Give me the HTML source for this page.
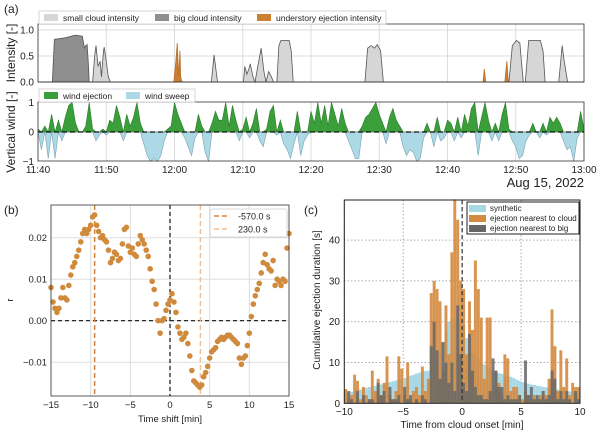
<!DOCTYPE html>
<html><head><meta charset="utf-8"><style>
body{margin:0;background:#fff;width:600px;height:432px;overflow:hidden}
svg{font-family:"Liberation Sans","DejaVu Sans",sans-serif}
</style></head><body>
<svg id="s" width="600" height="432" xmlns="http://www.w3.org/2000/svg"></svg>
<script>
// ---------- data ----------
const bigT=[2.1,2.4,4,5.5,6.5,6.8,7,7.2,7.4,7.5];
const bigV=[0,0.82,0.85,0.9,0.88,0.65,0.7,0.72,0.3,0];
const smallT=[8,8.3,8.5,8.8,9.1,9.3,9.6,9.7,10,10.3,10.6, 25.4,25.8,26.3, 30.1,30.3,30.6,30.9,31.1,31.5,31.8,32.2,32.7,33.1,33.4,33.8,34.2,34.5,34.9, 35,35.3,35.6,36.8,37.1,37.4, 47.9,48.3,48.8,49.3,49.7,50.2,50.6, 69,69.5,70.1,70.6,71.1,71.4,71.9,73.6,74,74.3, 76.3,76.8,77.1,77.6];
const smallV=[0,0.5,0.7,0.3,0.4,0.1,0.6,0.67,0.4,0.1,0, 0,0.52,0, 0,0.3,0.15,0.25,0.35,0.1,0,0.3,0.65,0.2,0,0.2,0.1,0,0, 0,0.7,0.8,0.8,0.6,0, 0,0.65,0.7,0.65,0.72,0.6,0, 0,0.7,0.8,0.75,0,0,0.8,0.8,0.6,0, 0,0.7,0.4,0];
const ejT=[19.9,20.2,20.4,20.6,20.8,20.9,21.1, 65.2,65.4,65.6, 68.4,68.7,68.9];
const ejV=[0,0.4,0.75,0.1,0.6,0.1,0, 0,0.25,0, 0,0.4,0];
const windV=[0.1,-0.6,0.2,-0.9,0.6,-0.9,0.4,-0.3,0.5,0.9,1,0.3,0,0,0.2,1,0.1,-0.3,-0.1,0.1,-0.1,0.4,0.3,0.9,0.5,-0.3,0.6,0.2,0.5,1,0.3,-0.4,-0.8,-1,-0.9,-1,-0.8,-0.3,0.1,0.2,1,0.6,0.3,-0.2,-0.5,-0.8,-0.2,0.6,0.2,-0.7,-1,0.3,0.7,0.4,0.4,1,0.2,0.9,0.4,-0.3,0.1,0.5,-0.2,0.3,0.8,-0.3,-0.5,0.1,0.7,0.9,-0.1,0.4,-0.4,-0.6,-0.9,-0.4,0.7,-0.8,-0.3,-0.1,0.7,0.3,1,0.3,0.9,0.2,1,0.6,0.2,0.8,0.3,-0.3,-0.6,-0.9,-0.9,0.2,0.5,0.6,0.8,1,0.6,0.3,-0.4,0.5,0.8,0.4,0.2,-0.5,-0.8,-0.6,-0.7,-1,-0.9,-0.2,0.3,0,-0.5,0.5,-0.3,-0.2,0.4,0.3,-0.3,0.5,-0.2,0.6,0.2,0.8,1,-0.8,0.5,1,0.4,-0.3,0.3,-0.3,0.6,1,0.1,-0.3,-0.5,-0.9,-0.8,-0.3,-0.1,0.3,0,-0.2,0.3,-0.1,0.5,0.3,0.5,0.3,-0.3,-0.6,-0.5,-1,-0.2,0.7,0.1];
const timeTicks=["11:40","11:50","12:00","12:10","12:20","12:30","12:40","12:50","13:00"];
const rVals=[0.008,0.0045,0.003,0.002,0.003,0.0055,0.008,0.0055,0.005,0.0085,0.011,0.013,0.014,0.0155,0.017,0.019,0.021,0.022,0.021,0.022,0.023,0.025,0.0255,0.023,0.0215,0.02,0.0205,0.0195,0.019,0.017,0.014,0.015,0.0165,0.016,0.0145,0.015,0.0185,0.022,0.0225,0.018,0.0165,0.0175,0.016,0.0155,0.0185,0.0205,0.0195,0.0185,0.017,0.0155,0.0125,0.0095,0.0075,0.004,0.0,-0.003,0.0,0.0005,0.0025,0.004,0.005,0.0065,0.0045,0.002,-0.0015,-0.003,-0.0045,-0.004,-0.003,-0.0055,-0.0085,-0.012,-0.0145,-0.015,-0.0155,-0.016,-0.0155,-0.0135,-0.0125,-0.011,-0.009,-0.0075,-0.007,-0.0065,-0.005,-0.0045,-0.004,-0.0045,-0.004,-0.0035,-0.0035,-0.004,-0.0045,-0.005,-0.0055,-0.009,-0.0105,-0.009,-0.0085,-0.006,-0.003,0.001,0.004,0.006,0.0075,0.009,0.0115,0.014,0.016,0.0135,0.0125,0.012,0.0145,0.0085,0.01,0.0095,0.0085,0.01,0.0095,0.0175,0.021];
const lagDark=-9.5, lagLight=3.833;
const synth=[2.5,2.7,2.8,3,3.2,3.4,3.6,3.8,4,4.1,4.3,4.5,4.6,4.8,5,5.2,5.4,5.6,5.8,6,6.2,6.5,6.8,7,7.3,7.5,7.7,7.9,8,8.5,9,10,12,15,18,20,21,21,21,20.5,19,16,14,12.5,12,11,10,9.5,9,8.5,8,7.7,7.4,7.2,7,6.8,6.5,6.2,5.8,5.5,5.2,5,4.8,4.6,4.5,4.3,4.2,4,3.9,3.8,3.6,3.5,3.4,3.3,3.2,3,2.9,2.8,2.7,2.5];
const nearCloud=[3.5,1,2,7,5.5,1,4,2,1,8,3,6,2,5,11.5,2,1,3,11.5,8.5,2,10,1,3,4,2,9,3,6,27,30,28,25,8,24,12,37,50,45,30,28,12,25,18,35,28,21,6,21,21,3,8,5,2,12,11,3,4,4,2,1,3,2,1,2,1,2,3,2,6,23,14,3,13,4,11,2,5,4,4];
const nearBig=[0,3,1,0,3,0,2,0,1,1,0,5,2,3,0,4,1,1,2,0,4,1,2,0,1,0,2,1,0,14,20,13,6,15,10,5,10,3,24,12,5,3,17,8,4,2,2,1,1,3,11,8,4,4,1,2,1,1,1,2,0,10.5,2,4,1,2,1,3,1,2,8,6,1,3,1,3,1,0,3,1];
const histTicksX=[-10,-5,0,5,10], histTicksY=[0,10,20,30,40];
const lagTicksX=[-15,-10,-5,0,5,10,15], lagTicksY=[0.02,0.01,0.00,-0.01];

// ---------- helpers ----------
const S=document.getElementById('s'),NS='http://www.w3.org/2000/svg';
function el(t,a,p){const e=document.createElementNS(NS,t);for(const k in a)e.setAttribute(k,a[k]);(p||S).appendChild(e);return e;}
function txt(x,y,s,size,anchor,extra){const e=el('text',Object.assign({x:x,y:y,'font-size':size,'text-anchor':anchor||'start',fill:'#222'},extra||{}));e.textContent=s;return e;}
const pt=(a,b)=>a.toFixed(2)+','+b.toFixed(2);

// ---------- panel (a) ----------
const ax=t=>38+t*6.825, ay1=v=>82-52*v, ay2=v=>132-29.5*v;
const X0=38,X1=584;
txt(4,13,'(a)',12,'start');
for(let i=0;i<9;i++){const x=ax(i*10);
 let g=el('line',{x1:x,x2:x,y1:24,y2:82,stroke:'#ddd','stroke-width':1});
 g=el('line',{x1:x,x2:x,y1:102,y2:161,stroke:'#ddd','stroke-width':1});
 const l=txt(x,173,timeTicks[i],10,'middle');}
[0.5,1].forEach(v=>{const g=el('line',{x1:X0,x2:X1,y1:ay1(v),y2:ay1(v),stroke:'#ddd'});});
[0.0,0.5,1.0].forEach(v=>{const l=txt(34,ay1(v)+3.5,v.toFixed(1),10,'end');});
[[1,'1'],[0,'0'],[-1,'−1']].forEach(([v,s])=>{const l=txt(34,ay2(v)+3.5,s,10,'end');});
function drawSeries(T,V,fill,stroke,name){
 let seg=[[T[0],V[0]]];const segs=[];
 for(let i=1;i<T.length;i++){seg.push([T[i],V[i]]);if(V[i]===0&&i<T.length-1&&V[i+1]===0){segs.push(seg);seg=[];}}
 if(seg.length)segs.push(seg);
 segs.forEach(sg=>{if(sg.length<2)return;const d='M'+sg.map(p=>pt(ax(p[0]),ay1(p[1]))).join(' L')+' L'+pt(ax(sg[sg.length-1][0]),ay1(0))+' L'+pt(ax(sg[0][0]),ay1(0))+'Z';
  const p=el('path',{d:d,fill:fill,stroke:stroke,'stroke-width':0.8});});
}
drawSeries(bigT,bigV,'#8f8f8f','#555','big-cloud-area');
drawSeries(smallT,smallV,'#d6d6d6','#555','small-cloud-area');
drawSeries(ejT,ejV,'#cd7f32','#b8702a','ejection-intensity-area');
el('line',{x1:X0,x2:X1,y1:82,y2:82,stroke:'#8a5a2a','stroke-width':1});
el('rect',{x:X0,y:24,width:X1-X0,height:58,fill:'none',stroke:'#333','stroke-width':0.8});
const lg1=el('g',{});
el('rect',{x:39,y:11,width:347,height:13,fill:'#fff',stroke:'#ccc','stroke-width':0.8},lg1);
[[44,'#d6d6d6','small cloud intensity'],[155,'#8f8f8f','big cloud intensity'],[257,'#cd7f32','understory ejection intensity']].forEach(([x,c,s])=>{
 const r=el('rect',{x:x,y:14,width:14,height:7,fill:c},lg1);
 const t=txt(x+19,21,s,8.5,'start');lg1.appendChild(t);});
const wx=i=>ax(i*0.5);
let dG='M'+pt(wx(0),ay2(0)),dB='M'+pt(wx(0),ay2(0));
windV.forEach((v,i)=>{dG+=' L'+pt(wx(i),ay2(Math.max(0,v)));dB+=' L'+pt(wx(i),ay2(Math.min(0,v)));});
dG+=' L'+pt(wx(windV.length-1),ay2(0))+'Z';dB+=' L'+pt(wx(windV.length-1),ay2(0))+'Z';
let p=el('path',{d:dB,fill:'#add8e6',stroke:'#7aa3b3','stroke-width':0.6});
p=el('path',{d:dG,fill:'#3a9e3a',stroke:'#2a7a2a','stroke-width':0.6});
el('line',{x1:X0,x2:X1,y1:ay2(0),y2:ay2(0),stroke:'#111','stroke-width':1.3,'stroke-dasharray':'5,3'});
el('rect',{x:X0,y:102,width:X1-X0,height:59,fill:'none',stroke:'#333','stroke-width':0.8});
const lg2=el('g',{});
el('rect',{x:39,y:89,width:156,height:13,fill:'#fff',stroke:'#ccc','stroke-width':0.8},lg2);
[[44,'#3a9e3a','wind ejection'],[126,'#add8e6','wind sweep']].forEach(([x,c,s])=>{
 const r=el('rect',{x:x,y:92,width:14,height:7,fill:c},lg2);
 const t=txt(x+19,99,s,8.5,'start');lg2.appendChild(t);});
let yl=txt(0,0,'Intensity [-]',12,'middle',{transform:'translate(15,53) rotate(-90)'});
yl=txt(0,0,'Vertical wind [-]',12,'middle',{transform:'translate(15,132) rotate(-90)'});
txt(584,187,'Aug 15, 2022',13,'end');

// ---------- panel (b) ----------
const bx=t=>51+(t+15)*(238/30), by=r=>320.7-r*4150;
txt(4,214,'(b)',12,'start');
lagTicksX.forEach(t=>{const g=el('line',{x1:bx(t),x2:bx(t),y1:205,y2:396,stroke:'#ddd'});
 const l=txt(bx(t),408,(t<0?'−'+(-t):''+t),9.5,'middle');});
lagTicksY.forEach(v=>{const g=el('line',{x1:51,x2:289,y1:by(v),y2:by(v),stroke:'#ddd'});
 const l=txt(47,by(v)+3.5,(v<0?'−':'')+Math.abs(v).toFixed(2),9.5,'end');});
el('line',{x1:bx(0),x2:bx(0),y1:205,y2:396,stroke:'#111','stroke-width':1.2,'stroke-dasharray':'4,3'});
el('line',{x1:51,x2:289,y1:by(0),y2:by(0),stroke:'#111','stroke-width':1.2,'stroke-dasharray':'4,3'});
el('line',{x1:bx(lagDark),x2:bx(lagDark),y1:205,y2:396,stroke:'#d2863a','stroke-width':1.5,'stroke-dasharray':'5,3'});
el('line',{x1:bx(lagLight),x2:bx(lagLight),y1:205,y2:396,stroke:'#f0c090','stroke-width':1.5,'stroke-dasharray':'5,3'});
rVals.forEach((r,i)=>{const c=el('circle',{cx:bx(-15+i*0.25),cy:by(r),r:2.8,fill:'#d08a3c'});
 
 });
el('rect',{x:51,y:205,width:238,height:191,fill:'none',stroke:'#333','stroke-width':0.8});
const lg3=el('g',{});
el('rect',{x:210,y:209,width:77,height:28,fill:'#fff',stroke:'#ccc','stroke-width':0.8,rx:2},lg3);
[[219,'#d2863a','-570.0 s'],[232,'#f0c090','230.0 s']].forEach(([y,c,s])=>{
 el('line',{x1:214,x2:230,y1:y-3,y2:y-3,stroke:c,'stroke-width':1.5,'stroke-dasharray':'5,3'},lg3);
 const t=txt(238,y+0.5,s,9,'start');lg3.appendChild(t);});
txt(170,422,'Time shift [min]',9.5,'middle');
txt(0,0,'r',9.5,'middle',{transform:'translate(13,300) rotate(-90)'});

// ---------- panel (c) ----------
const cx=t=>344.3+(t+10)*11.785, cy=v=>403.3-v*4.08, bw=0.25*11.785;
txt(304,214,'(c)',12,'start');
histTicksX.forEach(t=>{const g=el('line',{x1:cx(t),x2:cx(t),y1:200,y2:403,stroke:'#aaa','stroke-dasharray':'1.5,2'});
 const l=txt(cx(t),415,(t<0?'−'+(-t):''+t),10,'middle');});
histTicksY.forEach(v=>{const g=el('line',{x1:344,x2:580,y1:cy(v),y2:cy(v),stroke:'#aaa','stroke-dasharray':'1.5,2'});
 const l=txt(340,cy(v)+3.5,''+v,10,'end');});
function bars(arr,fill,op,name){arr.forEach((v,i)=>{const b=el('rect',{x:cx(-10+i*0.25),y:cy(v),width:bw,height:v*4.08,fill:fill,'fill-opacity':op});
 
 });}
bars(synth,'#a8d8e6',1,'synthetic-bar');
bars(nearCloud,'#d48a3e',0.9,'ejection-nearest-cloud-bar');
bars(nearBig,'#666',0.85,'ejection-nearest-big-bar');
el('line',{x1:cx(0),x2:cx(0),y1:200,y2:403,stroke:'#333','stroke-width':1.2,'stroke-dasharray':'4,3'});
el('rect',{x:344.3,y:200,width:235.7,height:203.3,fill:'none',stroke:'#222','stroke-width':1});
const lg4=el('g',{});
el('rect',{x:467,y:202,width:112,height:32,fill:'#fff',stroke:'#222','stroke-width':1},lg4);
[[211,'#a8d8e6','synthetic'],[221,'#d48a3e','ejection nearest to cloud'],[231,'#666','ejection nearest to big']].forEach(([y,c,s])=>{
 const r=el('rect',{x:469,y:y-6,width:17,height:7,fill:c},lg4);
 const t=txt(490,y,s,8,'start');lg4.appendChild(t);});
txt(462,428,'Time from cloud onset [min]',10,'middle');
txt(0,0,'Cumulative ejection duration [s]',10,'middle',{transform:'translate(320,300) rotate(-90)'});
</script>
</body></html>
